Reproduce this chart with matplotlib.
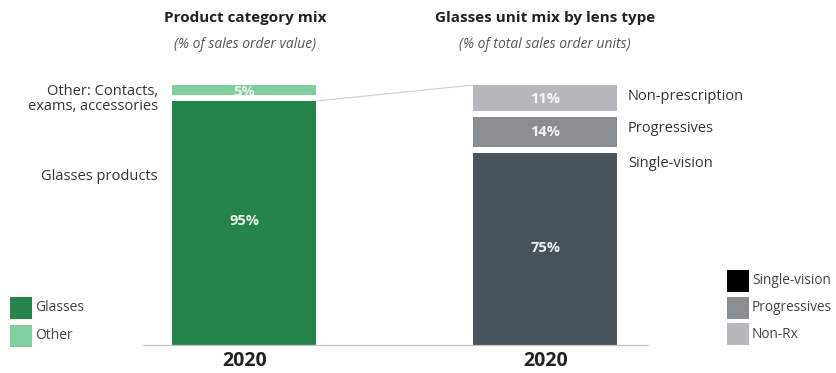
import matplotlib
import matplotlib.pyplot as plt
from matplotlib.patches import Rectangle
matplotlib.use('Agg')

plt.rcParams['font.family'] = ['Open Sans', 'DejaVu Sans']

# left bar: product category mix (% of sales order value)
category_names = ['Glasses', 'Other']
category_values = [95, 5]
category_colors = ['#24844b', '#80cfa0']

# right bar: glasses unit mix by lens type (% of total sales order units)
lens_names = ['Single-vision', 'Progressives', 'Non-Rx']
lens_values = [75, 14, 11]
lens_colors = ['#48535c', '#8b8e91', '#b7b8bc']
lens_legend_colors = ['#000000', '#8b8e91', '#b7b8bc']

years = ['2020', '2020']

W, H = 837, 373
fig = plt.figure(figsize=(W / 100, H / 100), dpi=100)

# axes placed in pixel units: baseline at y=345, 100% at y=85
x0, x1, y0, y1 = 143, 648, 345, 85
ax = fig.add_axes([x0 / W, 1 - y0 / H, (x1 - x0) / W, (y0 - y1) / H])
ax.set_ylim(0, 100)
step = 301.0
ax.set_xlim(-(244.5 - x0) / step, 1 + (x1 - 545.5) / step)
bar_w = 144 / step
gap = 6 * 100 / (y0 - y1)   # white gap between stacked segments

def stack(pos, values, colors):
    bottom = 0
    for i, (v, c) in enumerate(zip(values, colors)):
        ax.bar(pos, v, bottom=bottom, width=bar_w, color=c, linewidth=0, zorder=2)
        ax.text(pos, bottom + v / 2, f'{v}%', ha='center', va='center',
                color='white', fontsize=10.5, fontweight='bold', zorder=4,
                alpha=0.9 if c != category_colors[1] else 0.8)
        bottom += v
        if i < len(values) - 1:
            ax.bar(pos, gap, bottom=bottom - gap / 2, width=bar_w * 1.02,
                   color='white', linewidth=0, zorder=3)

stack(0, category_values, category_colors)
stack(1, lens_values, lens_colors)

# connector from top of glasses segment to top of lens stack
ax.plot([bar_w / 2, 1 - bar_w / 2],
        [category_values[0] - gap / 2, sum(lens_values)],
        color='#cfd6d2', lw=0.9, zorder=1)

for s in ['top', 'right', 'left']:
    ax.spines[s].set_visible(False)
ax.spines['bottom'].set_color('#c4c4c4')
ax.spines['bottom'].set_linewidth(0.9)
ax.set_yticks([])
ax.set_xticks([0, 1])
ax.set_xticklabels(years, fontsize=14, fontweight='bold', color='#222222')
ax.tick_params(axis='x', length=0, pad=4)

# titles
fig.text(245 / W, 1 - 18 / H, 'Product category mix', ha='center', va='center',
         fontsize=11, fontweight='bold', color='#222222')
fig.text(245 / W, 1 - 44 / H, '(% of sales order value)', ha='center', va='center',
         fontsize=10, style='italic', color='#555555')
fig.text(545 / W, 1 - 18 / H, 'Glasses unit mix by lens type', ha='center', va='center',
         fontsize=11, fontweight='bold', color='#222222')
fig.text(545 / W, 1 - 44 / H, '(% of total sales order units)', ha='center', va='center',
         fontsize=10, style='italic', color='#555555')

# segment labels
lab = dict(fontsize=10.5, color='#333333', va='center')
fig.text(158 / W, 1 - 99 / H, 'Other: Contacts,\nexams, accessories',
         ha='right', linespacing=1.0, **lab)
fig.text(158 / W, 1 - 177 / H, 'Glasses products', ha='right', **lab)
fig.text(628 / W, 1 - 96 / H, 'Non-prescription', ha='left', **lab)
fig.text(628 / W, 1 - 128 / H, 'Progressives', ha='left', **lab)
fig.text(628 / W, 1 - 163 / H, 'Single-vision', ha='left', **lab)

# legends drawn as swatches in figure pixels
def legend(x, ys, names, colors, size, fs):
    for y, n, c in zip(ys, names, colors):
        fig.patches.append(Rectangle((x / W, 1 - (y + size / 2) / H), size / W, size / H,
                                     transform=fig.transFigure, facecolor=c,
                                     edgecolor='none'))
        fig.text((x + size + 3) / W, 1 - y / H, n, ha='left', va='center',
                 fontsize=fs, color='#444444')

legend(10, [307.5, 335.5], category_names, category_colors, 22, 10)
legend(727, [281, 307.5, 334], lens_names, lens_legend_colors, 22, 9.8)

fig.savefig('out.png', dpi=100, facecolor='white')
